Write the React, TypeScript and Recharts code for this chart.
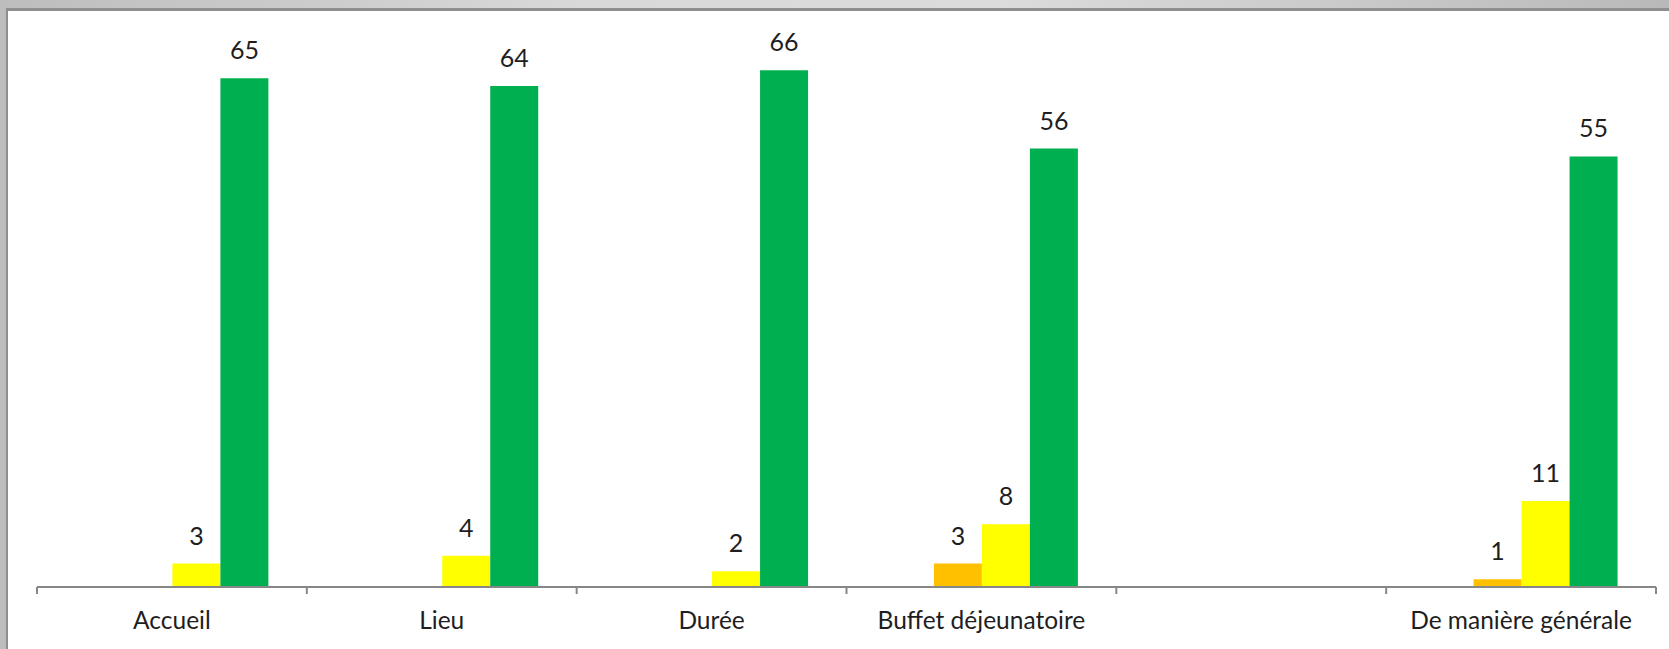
import React from 'react';
import { BarChart, Bar, XAxis, YAxis, LabelList } from 'recharts';

const categories = ['Accueil', 'Lieu', 'Durée', 'Buffet déjeunatoire', '', 'De manière générale'];
const redValues: (number | null)[] = [null, null, null, null, null, null];
const orangeValues: (number | null)[] = [null, null, null, 3, null, 1];
const yellowValues: (number | null)[] = [3, 4, 2, 8, null, 11];
const greenValues: (number | null)[] = [65, 64, 66, 56, null, 55];

const data = categories.map((c, i) => ({
  name: c,
  red: redValues[i],
  orange: orangeValues[i],
  yellow: yellowValues[i],
  green: greenValues[i],
}));

const W = 1669;
const H = 649;
const MARGIN = { top: 39, right: 13, left: 37, bottom: 12 };
const XAXIS_H = 50;
const PLOT_W = W - MARGIN.left - MARGIN.right;
const BAND = PLOT_W / categories.length;
const FONT = 'Lato, "Open Sans", sans-serif';
const AXIS_COLOR = '#878787';

const CustomTick = (props: any) => {
  const { x, y, payload, index } = props;
  const left = x - BAND / 2;
  const right = x + BAND / 2;
  return (
    <g>
      <line x1={left} y1={y} x2={left} y2={y + 7} stroke={AXIS_COLOR} strokeWidth={2} />
      {index === categories.length - 1 && (
        <line x1={right} y1={y} x2={right} y2={y + 7} stroke={AXIS_COLOR} strokeWidth={2} />
      )}
      <text x={x} y={y + 42} textAnchor="middle" fontFamily={FONT} fontSize={24.5} fill="#1e1e1e">
        {payload.value}
      </text>
    </g>
  );
};

export default function App() {
  return (
    <div style={{ position: 'absolute', left: 0, top: 0, width: W, height: H, background: '#fff', overflow: 'hidden' }}>
      <div
        style={{
          position: 'absolute',
          left: 0,
          top: 0,
          width: W,
          height: 9,
          background: 'linear-gradient(to right, #bdbdbd 0%, #d9d9d9 35%, #dcdcdc 60%, #b9b9b9 100%)',
        }}
      />
      <div style={{ position: 'absolute', left: 0, top: 0, width: 6, height: H, background: '#bdbdbd' }} />
      <div
        style={{
          position: 'absolute',
          left: 6,
          top: 8,
          width: W,
          height: H,
          borderTop: '3px solid #8e8e8e',
          borderLeft: '2px solid #8e8e8e',
        }}
      />
      <div style={{ position: 'absolute', left: 0, top: 0 }}>
        <BarChart width={W} height={H} data={data} margin={MARGIN} barCategoryGap="14.6%" barGap={0}>
          <YAxis hide domain={[0, 70]} />
          <XAxis
            dataKey="name"
            height={XAXIS_H}
            tickLine={false}
            tickSize={0}
            tickMargin={0}
            interval={0}
            axisLine={{ stroke: AXIS_COLOR, strokeWidth: 2 }}
            tick={<CustomTick />}
          />
          {[
            { key: 'red', color: '#FF0000' },
            { key: 'orange', color: '#FFC000' },
            { key: 'yellow', color: '#FFFF00' },
            { key: 'green', color: '#00B050' },
          ].map((s) => (
            <Bar key={s.key} dataKey={s.key} fill={s.color} isAnimationActive={false}>
              <LabelList
                dataKey={s.key}
                position="top"
                offset={19}
                fontFamily={FONT}
                fontSize={25}
                fill="#1e1e1e"
              />
            </Bar>
          ))}
        </BarChart>
      </div>
    </div>
  );
}
